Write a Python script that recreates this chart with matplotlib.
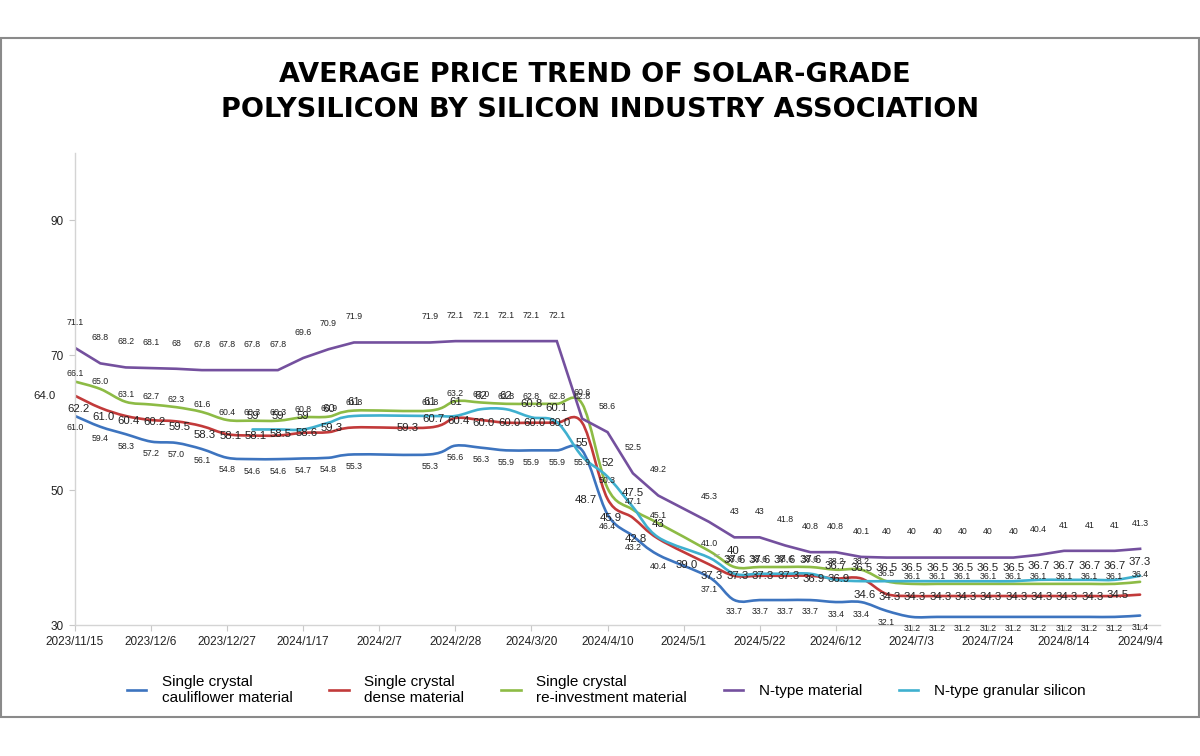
import numpy as np
import pandas as pd
import matplotlib
matplotlib.use('Agg')
import matplotlib.pyplot as plt
import matplotlib.dates as mdates
from matplotlib.path import Path
from matplotlib.patches import PathPatch, Rectangle
from matplotlib.lines import Line2D

# weekly report dates (no data for the Spring Festival weeks and the May Day week)
dates = ['2023-11-15', '2023-11-22', '2023-11-29', '2023-12-06', '2023-12-13', '2023-12-20',
         '2023-12-27', '2024-01-03', '2024-01-10', '2024-01-17', '2024-01-24', '2024-01-31',
         '2024-02-21', '2024-02-28', '2024-03-06', '2024-03-13', '2024-03-20', '2024-03-27',
         '2024-04-03', '2024-04-10', '2024-04-17', '2024-04-24', '2024-05-08', '2024-05-15',
         '2024-05-22', '2024-05-29', '2024-06-05', '2024-06-12', '2024-06-19', '2024-06-26',
         '2024-07-03', '2024-07-10', '2024-07-17', '2024-07-24', '2024-07-31', '2024-08-07',
         '2024-08-14', '2024-08-21', '2024-08-28', '2024-09-04']

cauliflower = [61.0, 59.4, 58.3, 57.2, 57.0, 56.1, 54.8, 54.6, 54.6, 54.7, 54.8, 55.3,
               55.3, 56.6, 56.3, 55.9, 55.9, 55.9, 55.9, 46.4, 43.2, 40.4,
               37.1, 33.7, 33.7, 33.7, 33.7, 33.4, 33.4, 32.1,
               31.2, 31.2, 31.2, 31.2, 31.2, 31.2, 31.2, 31.2, 31.2, 31.4]
dense = [64.0, 62.2, 61.0, 60.4, 60.2, 59.5, 58.3, 58.1, 58.1, 58.5, 58.6, 59.3,
         59.3, 60.7, 60.4, 60.0, 60.0, 60.0, 60.0, 48.7, 45.9, 42.8,
         39.0, 37.3, 37.3, 37.3, 37.3, 36.9, 36.9, 34.6,
         34.3, 34.3, 34.3, 34.3, 34.3, 34.3, 34.3, 34.3, 34.3, 34.5]
reinvest = [66.1, 65.0, 63.1, 62.7, 62.3, 61.6, 60.4, 60.3, 60.3, 60.8, 60.9, 61.8,
            61.8, 63.2, 63.0, 62.8, 62.8, 62.8, 62.8, 50.3, 47.1, 45.1,
            41.0, 38.6, 38.6, 38.6, 38.6, 38.2, 38.2, 36.5,
            36.1, 36.1, 36.1, 36.1, 36.1, 36.1, 36.1, 36.1, 36.1, 36.4]
ntype = [71.1, 68.8, 68.2, 68.1, 68, 67.8, 67.8, 67.8, 67.8, 69.6, 70.9, 71.9,
         71.9, 72.1, 72.1, 72.1, 72.1, 72.1, 60.6, 58.6, 52.5, 49.2,
         45.3, 43, 43, 41.8, 40.8, 40.8, 40.1, 40,
         40, 40, 40, 40, 40, 40.4, 41, 41, 41, 41.3]
granular = [None, None, None, None, None, None, None, 59, 59, 59, 60, 61,
            61, 61, 62, 62, 60.8, 60.1, 55, 52, 47.5, 43,
            40, 37.6, 37.6, 37.6, 37.6, 36.7, 36.5, 36.5,
            36.5, 36.5, 36.5, 36.5, 36.5, 36.7, 36.7, 36.7, 36.7, 37.3]

series_names = ['Single crystal\ncauliflower material', 'Single crystal\ndense material',
                'Single crystal\nre-investment material', 'N-type material',
                'N-type granular silicon']

tick_labels = ['2023/11/15', '2023/12/6', '2023/12/27', '2024/1/17', '2024/2/7', '2024/2/28',
               '2024/3/20', '2024/4/10', '2024/5/1', '2024/5/22', '2024/6/12', '2024/7/3',
               '2024/7/24', '2024/8/14', '2024/9/4']
y_ticks = [30, 50, 70, 90]

colors = ['#3D74BF', '#C23A3A', '#8DBB45', '#74509E', '#3FB0CF']

x = mdates.date2num(pd.to_datetime(dates))
xt = mdates.date2num(pd.to_datetime(tick_labels, format='%Y/%m/%d'))


def smooth_line(ax, xs, ys, color):
    # catmull-rom style bezier through the points, like the spreadsheet "smoothed line"
    n = len(xs)
    verts = [(xs[0], ys[0])]
    codes = [Path.MOVETO]
    for i in range(n - 1):
        a = max(i - 1, 0)
        b = min(i + 2, n - 1)
        c1 = (xs[i] + (xs[i + 1] - xs[a]) / 6, ys[i] + (ys[i + 1] - ys[a]) / 6)
        c2 = (xs[i + 1] - (xs[b] - xs[i]) / 6, ys[i + 1] - (ys[b] - ys[i]) / 6)
        verts += [c1, c2, (xs[i + 1], ys[i + 1])]
        codes += [Path.CURVE4] * 3
    ax.add_patch(PathPatch(Path(verts, codes), fill=False, edgecolor=color,
                           lw=1.9, capstyle='round', joinstyle='round'))


fig = plt.figure(figsize=(12, 7.56), dpi=100)
ax = fig.add_axes([75 / 1200, 1 - 625 / 756, 1085 / 1200, 472 / 756])

# label placement per series: (dx, dy) in points, font size
label_style = [((0, -8.6), 6.3), ((-16, -0.5), 8.2), ((0, 5.6), 6.3), ((0, 18.5), 6.3), ((0, 9.8), 8.2)]
all_series = [cauliflower, dense, reinvest, ntype, granular]

for k, vals in enumerate(all_series):
    xs = np.array([xi for xi, v in zip(x, vals) if v is not None])
    ys = np.array([v for v in vals if v is not None], dtype=float)
    if k == 3:
        ax.plot(xs, ys, color=colors[k], lw=1.9, solid_joinstyle='miter')
    else:
        smooth_line(ax, xs, ys, colors[k])
    (dx, dy), fs = label_style[k]
    for i, (xi, v) in enumerate(zip(xs, ys)):
        txt = ('%g' % v) if k in (3, 4) else ('%.1f' % v)
        off = (dx, dy)
        arrow = None
        if k == 1 and i == 0:
            off = (-22, dy)
        if k == 4 and dates[x.tolist().index(xi)] == '2024-05-08':
            # this label sits to the right with a short leader line
            off = (17, 5)
            arrow = dict(arrowstyle='-', color='#999999', lw=0.6, shrinkA=3, shrinkB=4)
        ax.annotate(txt, (xi, v), xytext=off, textcoords='offset points',
                    ha='center', va='center', fontsize=fs, color='#222222',
                    family='Liberation Sans', arrowprops=arrow)

ax.set_xlim(x[0], x[0] + 299.5)
ax.set_ylim(30, 100)
ax.set_xticks(xt)
ax.set_xticklabels(tick_labels)
ax.set_yticks(y_ticks)
ax.set_yticklabels([str(t) for t in y_ticks])
for side in ['top', 'right']:
    ax.spines[side].set_visible(False)
for side in ['left', 'bottom']:
    ax.spines[side].set_color('#d4d4d4')
    ax.spines[side].set_linewidth(1.0)
ax.tick_params(axis='both', colors='#c8c8c8', length=4, width=0.8, labelcolor='#222222',
               labelsize=8.5)
ax.tick_params(axis='x', pad=4)
ax.tick_params(axis='y', pad=4)
for lab in ax.get_xticklabels() + ax.get_yticklabels():
    lab.set_family('Liberation Sans')

# title
fig.text(0.496, 1 - 75 / 756, 'AVERAGE PRICE TREND OF SOLAR-GRADE', ha='center', va='center',
         fontsize=19.5, fontweight='heavy', family='DejaVu Sans', color='black')
fig.text(0.5, 1 - 110 / 756, 'POLYSILICON BY SILICON INDUSTRY ASSOCIATION', ha='center',
         va='center', fontsize=19.5, fontweight='heavy', family='DejaVu Sans', color='black')

# legend
handles = [Line2D([], [], color=c, lw=1.9) for c in colors]
fig.legend(handles, series_names, loc='center', bbox_to_anchor=(606 / 1200, 1 - 690 / 756),
           ncol=5, frameon=False, handlelength=1.3, handletextpad=1.0, columnspacing=2.4,
           prop={'family': 'Liberation Sans', 'size': 11}, labelspacing=0.2)

# outer frame
fig.patches.append(Rectangle((1 / 1200, 1 - 717 / 756), 1198 / 1200, 679 / 756,
                             transform=fig.transFigure, fill=False, edgecolor='#8a8a8a', lw=1.5))

fig.savefig('out.png', dpi=100, facecolor='white')
